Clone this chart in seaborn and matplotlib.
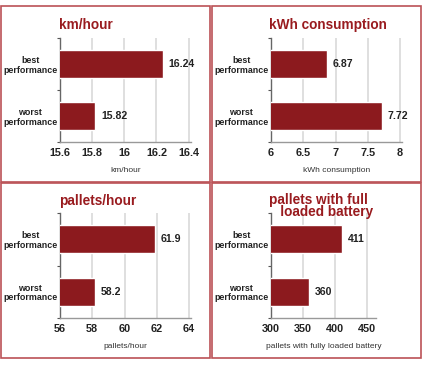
import matplotlib
matplotlib.use("Agg")
import matplotlib.pyplot as plt
import seaborn as sns
import pandas as pd
from matplotlib.patches import Rectangle

sns.set_theme(style="white")
plt.rcParams['font.family'] = ['Liberation Sans', 'DejaVu Sans']

categories = ["best\nperformance", "worst\nperformance"]
kmh_values = [16.24, 15.82]
kwh_values = [6.87, 7.72]
pallets_values = [61.9, 58.2]
battery_values = [411, 360]

kmh_labels = ["16.24", "15.82"]
kwh_labels = ["6.87", "7.72"]
pallets_labels = ["61.9", "58.2"]
battery_labels = ["411", "360"]

titles = ["km/hour", "kWh consumption", "pallets/hour", "pallets with full\n   loaded battery"]
xlabels = ["km/hour", "kWh consumption", "pallets/hour", "pallets with fully loaded battery"]
kmh_ticks = [15.6, 15.8, 16.0, 16.2, 16.4]
kmh_ticklabels = ["15.6", "15.8", "16", "16.2", "16.4"]
kwh_ticks = [6, 6.5, 7, 7.5, 8]
kwh_ticklabels = ["6", "6.5", "7", "7.5", "8"]
pallets_ticks = [56, 58, 60, 62, 64]
pallets_ticklabels = ["56", "58", "60", "62", "64"]
battery_ticks = [300, 350, 400, 450]
battery_ticklabels = ["300", "350", "400", "450"]

W, H = 422, 367
fig = plt.figure(figsize=(W / 100, H / 100), dpi=100)

BAR = "#8c1a1e"
TITLE = "#991b1f"
BORDER = "#bb5256"

# panel borders (pixels: x0, y0, x1, y1)
for (x0, y0, x1, y1) in [(1, 6, 210, 182), (212, 6, 421, 182),
                         (1, 183, 210, 358), (212, 183, 421, 358)]:
    fig.patches.append(Rectangle((x0 / W, 1 - y1 / H), (x1 - x0) / W, (y1 - y0) / H,
                                 transform=fig.transFigure, fill=False,
                                 edgecolor=BORDER, linewidth=1.2))

def px_axes(l, r, t, b):
    return fig.add_axes([l / W, 1 - b / H, (r - l) / W, (b - t) / H])

panels = [
    (px_axes(60, 191, 38, 142), kmh_values, kmh_labels, kmh_ticks, kmh_ticklabels, (15.6, 16.415), xlabels[0]),
    (px_axes(271, 402, 38, 142), kwh_values, kwh_labels, kwh_ticks, kwh_ticklabels, (6, 8.03), xlabels[1]),
    (px_axes(60, 191, 213, 318), pallets_values, pallets_labels, pallets_ticks, pallets_ticklabels, (56, 64.12), xlabels[2]),
    (px_axes(271, 376, 213, 318), battery_values, battery_labels, battery_ticks, battery_ticklabels, (300, 464), xlabels[3]),
]

for ax, vals, labs, ticks, ticklabels, xlim, xlabel in panels:
    df = pd.DataFrame({"cat": categories, "val": vals})
    sns.barplot(data=df, x="val", y="cat", orient="h", color=BAR, width=0.53,
                saturation=1, ax=ax, zorder=3)
    ax.set_xlim(*xlim)
    ax.set_ylim(1.5, -0.5)
    ax.set_xticks(ticks)
    ax.set_xticklabels(ticklabels, fontsize=7.8, fontweight="bold", color="#222222")
    ax.tick_params(axis="x", length=0, pad=4.5)
    ax.tick_params(axis="y", which="major", length=0, pad=2)
    for t in ax.get_yticklabels():
        t.set_fontsize(6.4)
        t.set_fontweight("bold")
        t.set_color("#222222")
        t.set_multialignment("center")
        t.set_linespacing(1.1)
    ax.set_yticks([-0.5, 0.5, 1.5], minor=True)
    ax.tick_params(axis="y", which="minor", length=2.5, width=0.8, color="#555555", left=True)
    ax.grid(axis="x", color="#dcdcdc", linewidth=1.3, zorder=0)
    ax.set_axisbelow(True)
    ax.set_ylabel("")
    ax.set_xlabel(xlabel, fontsize=6, color="#333333", labelpad=6)
    for s in ["top", "right"]:
        ax.spines[s].set_visible(False)
    ax.spines["left"].set_color("#666666")
    ax.spines["left"].set_linewidth(1.0)
    ax.spines["bottom"].set_color("#999999")
    ax.spines["bottom"].set_linewidth(1.0)
    ax.bar_label(ax.containers[0], labels=labs, padding=4, fontsize=7.6,
                 fontweight="bold", color="#222222")

TFS = 9.8
fig.text(59 / W, 1 - 25 / H, titles[0], fontsize=TFS, fontweight="bold", color=TITLE, va="center", ha="left")
fig.text(269 / W, 1 - 25 / H, titles[1], fontsize=TFS, fontweight="bold", color=TITLE, va="center", ha="left")
fig.text(59 / W, 1 - 201 / H, titles[2], fontsize=TFS, fontweight="bold", color=TITLE, va="center", ha="left")
fig.text(269 / W, 1 - 206 / H, titles[3], fontsize=TFS, fontweight="bold", color=TITLE,
         va="center", ha="left", linespacing=0.9)

fig.savefig("out.png", dpi=100)
